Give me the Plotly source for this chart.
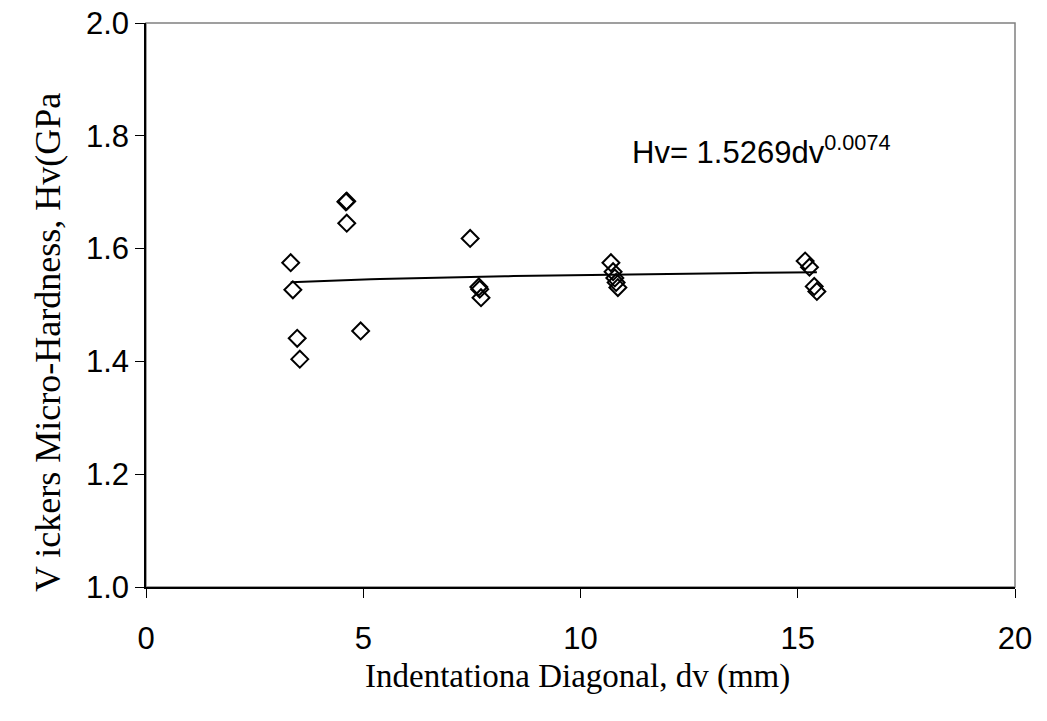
import numpy as np
import plotly.graph_objects as go

# Data
dv = [3.33, 3.38, 3.48, 3.54, 4.60, 4.62, 4.62, 4.94,
      7.46, 7.66, 7.68, 7.71,
      10.70, 10.75, 10.79, 10.82, 10.86,
      15.17, 15.27, 15.38, 15.44]
hv = [1.575, 1.527, 1.441, 1.404, 1.683, 1.684, 1.645, 1.454,
      1.618, 1.532, 1.528, 1.513,
      1.575, 1.559, 1.548, 1.540, 1.531,
      1.578, 1.567, 1.533, 1.524]

# Power trendline coefficients shown on the chart
fit_a = 1.5269
fit_b = 0.0074
x_ticks = [0, 5, 10, 15, 20]
y_ticks = [1.0, 1.2, 1.4, 1.6, 1.8, 2.0]

xf = np.linspace(min(dv), max(dv), 60)
yf = fit_a * xf ** fit_b

fig = go.Figure()
fig.add_trace(go.Scatter(x=xf, y=yf, mode="lines",
                         line=dict(color="black", width=2),
                         showlegend=False, hoverinfo="skip"))
fig.add_trace(go.Scatter(x=dv, y=hv, mode="markers",
                         marker=dict(symbol="diamond-open", size=13,
                                     color="black", line=dict(width=2, color="black")),
                         showlegend=False))

fig.update_layout(
    width=1047, height=721,
    margin=dict(l=146, r=32, t=23, b=134, autoexpand=False),
    paper_bgcolor="white", plot_bgcolor="white",
    font=dict(family="Liberation Sans, Arial", size=31, color="black"),
    xaxis=dict(range=[0, 20], tickvals=x_ticks, ticktext=[str(v) for v in x_ticks],
               ticks="outside", ticklen=9, tickcolor="black", tickwidth=1,
               showline=True, linecolor="black", linewidth=1.5, mirror=False,
               showgrid=False, zeroline=False, ticklabelstandoff=14, automargin=False,
               tickfont=dict(family="Liberation Sans, Arial", size=31)),
    yaxis=dict(range=[1.0, 2.0], tickvals=y_ticks, ticktext=["%.1f" % v for v in y_ticks],
               ticks="outside", ticklen=9, tickcolor="black", tickwidth=1,
               showline=True, linecolor="black", linewidth=1.5, automargin=False,
               showgrid=False, zeroline=False,
               tickfont=dict(family="Liberation Sans, Arial", size=31)),
    shapes=[dict(type="rect", xref="paper", yref="paper", x0=0, x1=1, y0=0, y1=1,
                 line=dict(color="#808080", width=1.5), layer="below")],
    annotations=[
        dict(text="Hv= 1.5269dv<sup>0.0074</sup>", x=11.14, y=1.775, xref="x", yref="y",
             xanchor="left", yanchor="middle", showarrow=False,
             font=dict(family="Liberation Sans, Arial", size=31)),
        dict(text="Indentationa Diagonal, dv (mm)", x=0.4966, y=-0.158,
             xref="paper", yref="paper", xanchor="center", yanchor="middle",
             showarrow=False, font=dict(family="Liberation Serif, Times New Roman", size=33)),
        dict(text="V ickers Micro-Hardness, Hv(GPa", x=-0.1128, y=0.4344,
             xref="paper", yref="paper", xanchor="center", yanchor="middle",
             textangle=-90, showarrow=False,
             font=dict(family="Liberation Serif, Times New Roman", size=36)),
    ],
)

fig.write_html("out.html")
